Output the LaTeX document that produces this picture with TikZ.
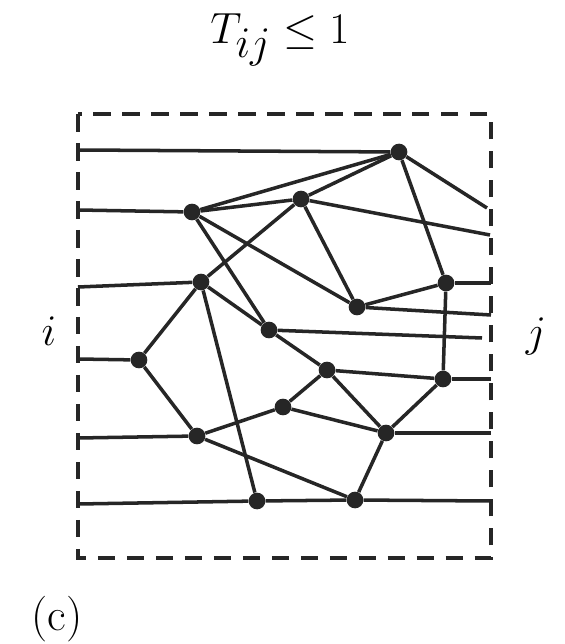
\documentclass[tikz,border=0pt]{standalone}
\usetikzlibrary{positioning}

\begin{document}
\begin{tikzpicture}[
    x=0.02cm, y=-0.02cm,
    dot/.style={circle, fill=black!85, inner sep=0pt, minimum size=9.5pt},
    link/.style={line width=2pt, draw=black!85},
    frame/.style={line width=2pt, draw=black!85, dash pattern=on 10pt off 6.5pt},
    lbl/.style={font=\fontsize{26}{30}\selectfont}
  ]
    \useasboundingbox (0,0) rectangle (564,644);

    % Dashed frame
    \draw[frame] (78,114) rectangle (491,558);

    % Nodes
    \node[dot] (a) at (399,152) {};
    \node[dot] (b) at (192,212) {};
    \node[dot] (c) at (301,199) {};
    \node[dot] (d) at (201,282) {};
    \node[dot] (e) at (269,330) {};
    \node[dot] (f) at (357,307) {};
    \node[dot] (g) at (446,283) {};
    \node[dot] (h) at (139,360) {};
    \node[dot] (p) at (327,370) {};
    \node[dot] (q) at (443,379) {};
    \node[dot] (k) at (283,407) {};
    \node[dot] (l) at (197,436) {};
    \node[dot] (m) at (386,433) {};
    \node[dot] (n) at (257,501) {};
    \node[dot] (o) at (355,500) {};

    % Terminals on side i
    \coordinate (i1) at (78,150);
    \coordinate (i2) at (78,210);
    \coordinate (i3) at (78,287);
    \coordinate (i4) at (78,359);
    \coordinate (i5) at (78,438);
    \coordinate (i6) at (78,504);

    % Terminals on side j
    \coordinate (j1) at (487,208);
    \coordinate (j2) at (490,235);
    \coordinate (j3) at (491,283);
    \coordinate (j4) at (491,315);
    \coordinate (j5) at (482,338);
    \coordinate (j6) at (491,379);
    \coordinate (j7) at (491,433);
    \coordinate (j8) at (491,501);

    % Links
    \draw[link] (i1) -- (a);
    \draw[link] (i2) -- (b);
    \draw[link] (i3) -- (d);
    \draw[link] (i4) -- (h);
    \draw[link] (i5) -- (l);
    \draw[link] (i6) -- (n);
    \draw[link] (a) -- (j1);
    \draw[link] (c) -- (j2);
    \draw[link] (g) -- (j3);
    \draw[link] (f) -- (j4);
    \draw[link] (e) -- (j5);
    \draw[link] (q) -- (j6);
    \draw[link] (m) -- (j7);
    \draw[link] (o) -- (j8);
    \draw[link] (b) -- (a);
    \draw[link] (b) -- (c);
    \draw[link] (c) -- (a);
    \draw[link] (a) -- (g);
    \draw[link] (b) -- (f);
    \draw[link] (b) -- (e);
    \draw[link] (c) -- (f);
    \draw[link] (c) -- (d);
    \draw[link] (d) -- (h);
    \draw[link] (d) -- (e);
    \draw[link] (d) -- (n);
    \draw[link] (f) -- (g);
    \draw[link] (g) -- (q);
    \draw[link] (e) -- (p);
    \draw[link] (p) -- (q);
    \draw[link] (p) -- (k);
    \draw[link] (p) -- (m);
    \draw[link] (k) -- (l);
    \draw[link] (k) -- (m);
    \draw[link] (h) -- (l);
    \draw[link] (l) -- (o);
    \draw[link] (m) -- (o);
    \draw[link] (n) -- (o);
    \draw[link] (q) -- (m);

    % Labels
    \node (title) at (280,40) {\fontsize{35}{42}\selectfont$T_{ij}\leq 1$};
    \node[lbl] (side i) at (49,331) {$i$};
    \node[lbl] (side j) at (536,336) {$j$};
    \node (tag) at (57,619) {\fontsize{26}{30}\selectfont(c)};

\end{tikzpicture}
\end{document}
